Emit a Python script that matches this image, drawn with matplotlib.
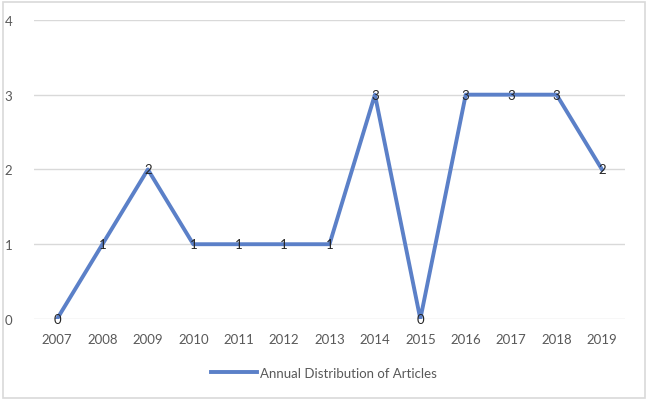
import matplotlib
matplotlib.use("Agg")
import matplotlib.pyplot as plt
from matplotlib.patches import Rectangle

years = ["2007", "2008", "2009", "2010", "2011", "2012", "2013",
         "2014", "2015", "2016", "2017", "2018", "2019"]
articles = [0, 1, 2, 1, 1, 1, 1, 3, 0, 3, 3, 3, 2]
series_name = "Annual Distribution of Articles"

plt.rcParams['font.family'] = ['Lato', 'DejaVu Sans']

fig = plt.figure(figsize=(6.48, 4.02), dpi=100)
ax = fig.add_axes([0.053, 0.204, 0.911, 0.744])

x = list(range(len(years)))
ax.plot(x, articles, color="#5B80C8", linewidth=2.8, solid_joinstyle="round",
        label=series_name, zorder=3)
for xi, v in zip(x, articles):
    ax.text(xi, v, str(v), ha="center", va="center", fontsize=9.5,
            color="#262626", zorder=4)

ax.set_xlim(-0.5, len(years) - 0.5)
ax.set_ylim(0, 4)
ax.set_yticks([0, 1, 2, 3, 4])
ax.set_xticks(x)
ax.set_xticklabels(years)
ax.grid(axis="y", color="#D9D9D9", linewidth=1)
ax.set_axisbelow(True)
for s in ax.spines.values():
    s.set_visible(False)
ax.tick_params(axis="both", length=0, labelsize=9.5, labelcolor="#595959")
ax.tick_params(axis="y", pad=16)
ax.tick_params(axis="x", pad=10)

leg = fig.legend(loc="center", bbox_to_anchor=(0.5, 0.07), frameon=False,
                 fontsize=9.5, handlelength=3.5, handletextpad=0.2)
for t in leg.get_texts():
    t.set_color("#595959")

fig.patches.append(Rectangle((0.004, 0.008), 0.992, 0.985, transform=fig.transFigure,
                             fill=False, edgecolor="#D9D9D9", linewidth=1.2))

fig.savefig("out.png", dpi=100)
